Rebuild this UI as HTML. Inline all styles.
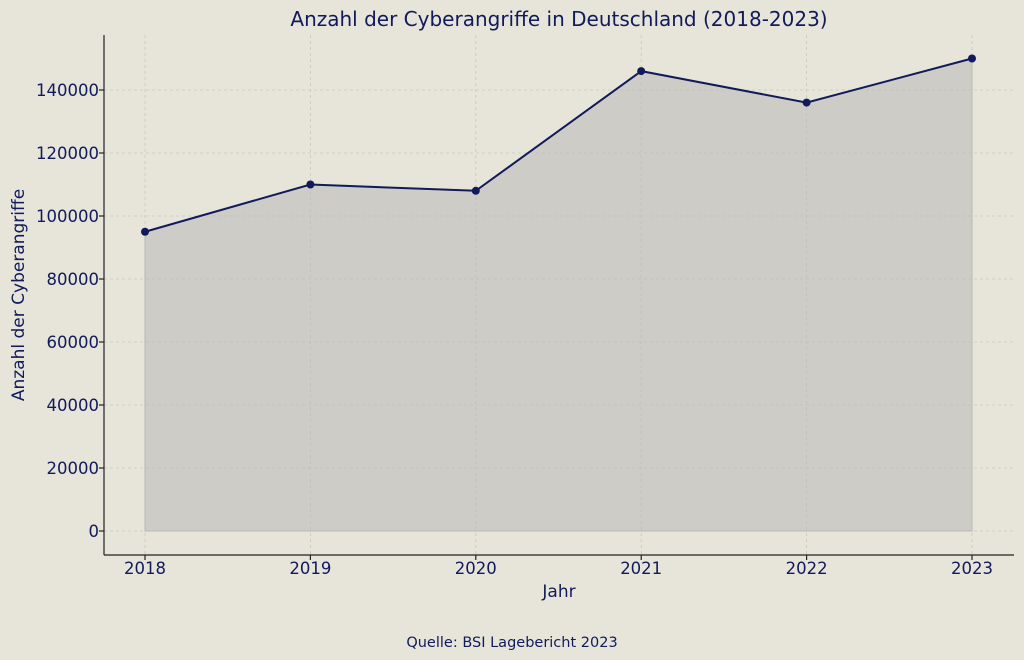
<!DOCTYPE html>
<html><head><meta charset="utf-8"><style>
html,body{margin:0;padding:0;background:#e7e4da;}
svg{display:block;font-family:"DejaVu Sans","Liberation Sans",sans-serif;}
</style></head><body>
<svg width="1024" height="660" viewBox="0 0 1024 660" xmlns="http://www.w3.org/2000/svg">
<rect width="1024" height="660" fill="#e7e4da"/>
<g stroke="#c9c7bf" stroke-dasharray="3,3" stroke-width="0.8">
<line x1="145" y1="35" x2="145" y2="555"/><line x1="310.4" y1="35" x2="310.4" y2="555"/>
<line x1="475.8" y1="35" x2="475.8" y2="555"/><line x1="641.2" y1="35" x2="641.2" y2="555"/>
<line x1="806.6" y1="35" x2="806.6" y2="555"/><line x1="972" y1="35" x2="972" y2="555"/>
<line x1="104" y1="531" x2="1014" y2="531"/><line x1="104" y1="468" x2="1014" y2="468"/>
<line x1="104" y1="405" x2="1014" y2="405"/><line x1="104" y1="342" x2="1014" y2="342"/>
<line x1="104" y1="279" x2="1014" y2="279"/><line x1="104" y1="216" x2="1014" y2="216"/>
<line x1="104" y1="153" x2="1014" y2="153"/><line x1="104" y1="90" x2="1014" y2="90"/>
</g>
<polygon points="145,531 145,231.75 310.4,184.5 475.8,190.8 641.2,71.1 806.6,102.6 972,58.5 972,531" fill="#b8b8b8" fill-opacity="0.55" stroke="#b8b8b8" stroke-width="1"/>
<polyline points="145,231.75 310.4,184.5 475.8,190.8 641.2,71.1 806.6,102.6 972,58.5" fill="none" stroke="#111a5a" stroke-width="2"/>
<g fill="#111a5a">
<circle cx="145" cy="231.75" r="4"/><circle cx="310.4" cy="184.5" r="4"/><circle cx="475.8" cy="190.8" r="4"/>
<circle cx="641.2" cy="71.1" r="4"/><circle cx="806.6" cy="102.6" r="4"/><circle cx="972" cy="58.5" r="4"/>
</g>
<g stroke="#222" stroke-width="1.2">
<line x1="104" y1="35" x2="104" y2="555"/><line x1="104" y1="555" x2="1014" y2="555"/>
<line x1="99" y1="531" x2="104" y2="531"/><line x1="99" y1="468" x2="104" y2="468"/><line x1="99" y1="405" x2="104" y2="405"/>
<line x1="99" y1="342" x2="104" y2="342"/><line x1="99" y1="279" x2="104" y2="279"/><line x1="99" y1="216" x2="104" y2="216"/>
<line x1="99" y1="153" x2="104" y2="153"/><line x1="99" y1="90" x2="104" y2="90"/>
<line x1="145" y1="555" x2="145" y2="560"/><line x1="310.4" y1="555" x2="310.4" y2="560"/><line x1="475.8" y1="555" x2="475.8" y2="560"/>
<line x1="641.2" y1="555" x2="641.2" y2="560"/><line x1="806.6" y1="555" x2="806.6" y2="560"/><line x1="972" y1="555" x2="972" y2="560"/>
</g>
<g fill="#111a5a" font-size="16.5" text-anchor="end">
<text x="99" y="537">0</text><text x="99" y="474">20000</text><text x="99" y="411">40000</text><text x="99" y="348">60000</text>
<text x="99" y="285">80000</text><text x="99" y="222">100000</text><text x="99" y="159">120000</text><text x="99" y="96">140000</text>
</g>
<g fill="#111a5a" font-size="16.5" text-anchor="middle">
<text x="145" y="574">2018</text><text x="310.4" y="574">2019</text><text x="475.8" y="574">2020</text>
<text x="641.2" y="574">2021</text><text x="806.6" y="574">2022</text><text x="972" y="574">2023</text>
<text x="559" y="597" font-size="17">Jahr</text>
<text x="559" y="26" font-size="20">Anzahl der Cyberangriffe in Deutschland (2018-2023)</text>
<text x="512" y="647" font-size="14.5">Quelle: BSI Lagebericht 2023</text>
<text transform="translate(24,295) rotate(-90)" font-size="17">Anzahl der Cyberangriffe</text>
</g>
</svg>
</body></html>
